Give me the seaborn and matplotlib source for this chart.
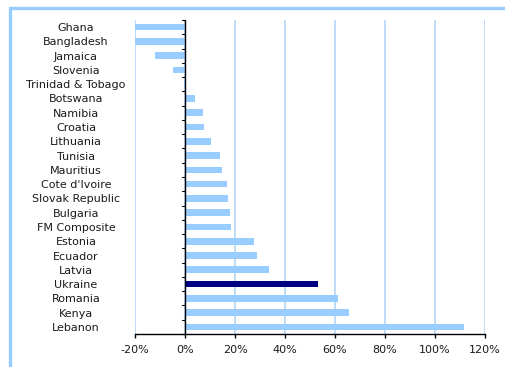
import matplotlib
matplotlib.use("Agg")
import matplotlib.pyplot as plt
from matplotlib.lines import Line2D
from matplotlib.ticker import FuncFormatter, MultipleLocator
import seaborn as sns
import pandas as pd

countries = ["Ghana", "Bangladesh", "Jamaica", "Slovenia", "Trinidad & Tobago",
             "Botswana", "Namibia", "Croatia", "Lithuania", "Tunisia", "Mauritius",
             "Cote d'Ivoire", "Slovak Republic", "Bulgaria", "FM Composite",
             "Estonia", "Ecuador", "Latvia", "Ukraine", "Romania", "Kenya", "Lebanon"]
changes = [-20.4, -20.5, -12.0, -4.8, -0.5, 4.0, 7.2, 7.6, 10.4, 14.0, 14.8,
           16.8, 17.2, 18.0, 18.4, 27.6, 28.8, 33.6, 53.2, 61.2, 65.6, 111.6]
highlight = "Ukraine"

light_blue = "#99CCFF"
navy = "#000080"
grid_blue = "#B4D4F7"

df = pd.DataFrame({"country": countries, "change": changes})
palette = {c: (navy if c == highlight else light_blue) for c in countries}

sns.set_style("white")
plt.rcParams["font.family"] = ["DejaVu Sans"]

fig = plt.figure(figsize=(5.06, 3.67), dpi=100)
ax = fig.add_axes([135 / 506, 1 - 334 / 367, 350 / 506, 314 / 367])

sns.barplot(data=df, x="change", y="country", hue="country", palette=palette,
            order=countries, hue_order=countries, legend=False, width=0.47,
            saturation=1, linewidth=0, ax=ax)
for bar in ax.patches:
    bar.set_zorder(3)

ax.set_xlim(-20, 120)
ax.set_ylim(len(countries) - 0.5, -0.5)
ax.xaxis.set_major_locator(MultipleLocator(20))
ax.xaxis.set_major_formatter(FuncFormatter(lambda v, p: f"{v:.0f}%"))
ax.grid(axis="x", color=grid_blue, linewidth=1.2, zorder=0)
ax.set_axisbelow(True)
ax.set_xlabel("")
ax.set_ylabel("")

for side in ["top", "right", "left"]:
    ax.spines[side].set_visible(False)
ax.spines["bottom"].set_color("black")
ax.spines["bottom"].set_linewidth(1.0)
ax.spines["bottom"].set_zorder(5)

ax.tick_params(axis="x", length=3, width=1, color="black", direction="out",
               labelsize=8, labelcolor="#1a1a1a", pad=5, bottom=True)
ax.tick_params(axis="y", length=0, labelsize=8, labelcolor="#1a1a1a", pad=42.5)
for lbl in ax.get_yticklabels():
    lbl.set_horizontalalignment("center")

# zero line with category tick marks
ax.axvline(0, color="black", linewidth=1.0, zorder=4)
for i in range(len(countries) + 1):
    ax.plot([-1.2, 0], [i - 0.5, i - 0.5], color="black", linewidth=0.8,
            zorder=4, clip_on=False)

# light blue frame along top and left
fig.add_artist(Line2D([10 / 506, 1.0], [1 - 8 / 367, 1 - 8 / 367],
                      color=light_blue, linewidth=2.4, transform=fig.transFigure))
fig.add_artist(Line2D([10 / 506, 10 / 506], [0.0, 1 - 8 / 367],
                      color=light_blue, linewidth=2.4, transform=fig.transFigure))

fig.savefig("out.png", dpi=100)
